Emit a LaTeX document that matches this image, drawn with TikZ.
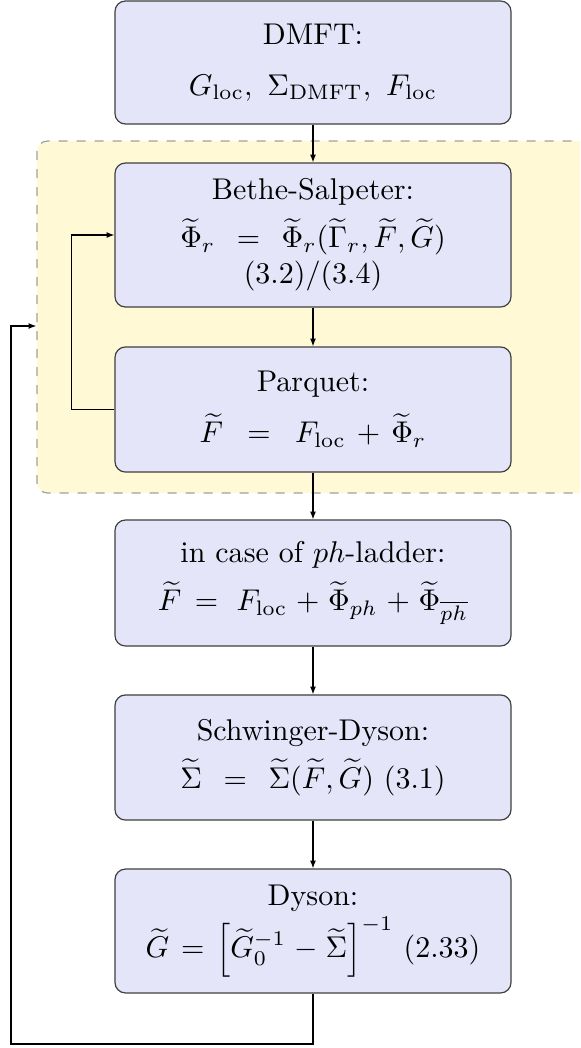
\documentclass[tikz,border=0pt]{standalone}
\usepackage{amsmath}
\usepackage{amssymb}
\usepackage{tikz}
\usetikzlibrary{arrows.meta, positioning, calc}
\definecolor{boxfill}{HTML}{E5E5FA}
\definecolor{loopfill}{HTML}{FFF9D6}
\definecolor{cgray}{HTML}{A0A0A0}
\definecolor{cdark}{HTML}{404040}

\begin{document}
\begin{tikzpicture}[x=0.3333pt, y=-0.3333pt,
    >={Latex[length=2.6pt,width=2pt]},
    stepbox/.style={draw=cdark, fill=boxfill, rounded corners=3.5pt,
      text width=128pt, minimum width=132pt, align=center, inner sep=2pt},
    loopbox/.style={draw=cgray, fill=loopfill, dashed, rounded corners=3.5pt,
      minimum width=187.7pt, minimum height=117.3pt, inner sep=0pt}]
  \clip (0,0) rectangle (580,1048);

  % self-consistency region
  \node[loopbox] (inner) at (318.5,317) {};

  \node[stepbox, minimum height=41pt] (dmft) at (313,62.5)
    {DMFT:\\[5pt] $G_{\text{loc}},\ \Sigma_{\text{DMFT}},\ F_{\text{loc}}$};
  \node[stepbox, minimum height=48pt] (bse) at (313,235)
    {Bethe-Salpeter:\\[4pt]
     $\widetilde{\Phi}_r \,=\, \widetilde{\Phi}_r(\widetilde{\Gamma}_r,\widetilde{F},\widetilde{G})$\\
     $(3.2)/(3.4)$};
  \node[stepbox, minimum height=41.7pt] (parquet) at (313,409.5)
    {Parquet:\\[5pt] $\widetilde{F} \,=\, F_{\text{loc}} + \widetilde{\Phi}_r$};
  \node[stepbox, minimum height=42pt] (ladder) at (313,583)
    {in case of $ph$-ladder:\\[4pt]
     $\widetilde{F} =\, F_{\text{loc}} + \widetilde{\Phi}_{ph} + \widetilde{\Phi}_{\overline{ph}}$};
  \node[stepbox, minimum height=41.7pt] (sde) at (313,757.5)
    {Schwinger-Dyson:\\[4pt]
     $\widetilde{\Sigma} \,=\, \widetilde{\Sigma}(\widetilde{F},\widetilde{G})$ $(3.1)$};
  \node[stepbox, minimum height=41.3pt] (dyson) at (313,931)
    {Dyson:\\[1pt]
     $\widetilde{G} = \Bigl[\widetilde{G}_0^{-1} - \widetilde{\Sigma}\Bigr]^{-1}$ $(2.33)$};

  % downward flow
  \draw[->] (dmft) -- (bse);
  \draw[->] (bse) -- (parquet);
  \draw[->] (parquet) -- (ladder);
  \draw[->] (ladder) -- (sde);
  \draw[->] (sde) -- (dyson);

  % parquet loop
  \draw[->] (parquet.west) -- ++(-43,0) |- (bse.west);

  % outer loop back to the start
  \coordinate (back) at (11,1044);
  \coordinate (entry) at (11,326);
  \draw[->] (dyson.south) -- (dyson.south |- back) -- (back) -- (entry)
    -- (entry -| inner.west);
\end{tikzpicture}
\end{document}
